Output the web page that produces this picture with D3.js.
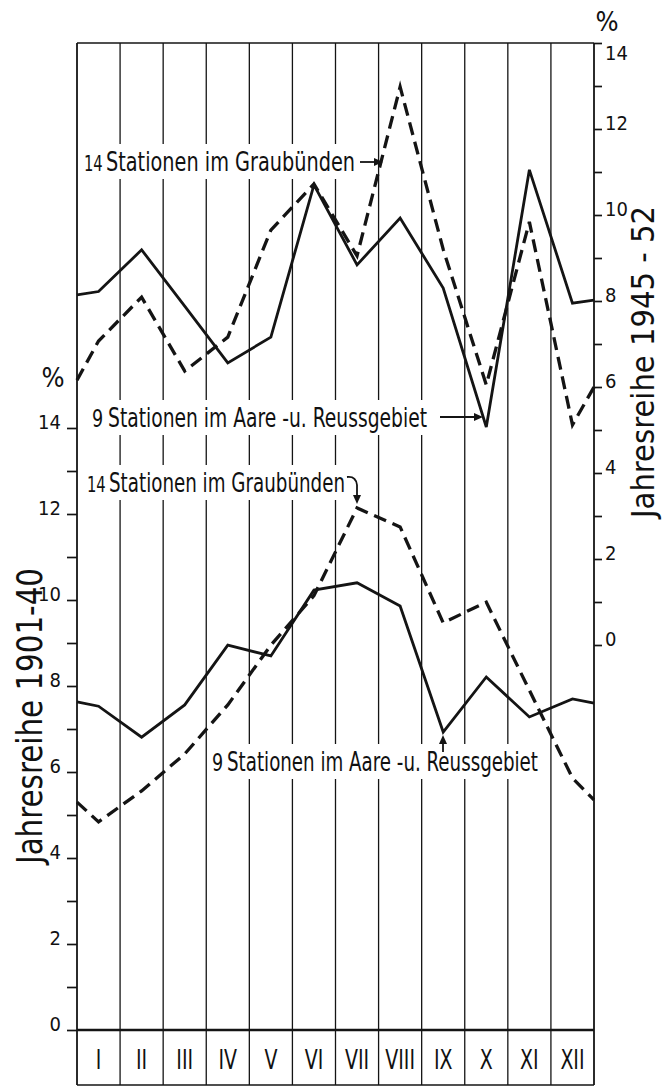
<!DOCTYPE html>
<html><head><meta charset="utf-8">
<script src="https://cdn.jsdelivr.net/npm/d3@7"></script>
<style>
body{margin:0;background:#fff}
svg{display:block;background:#fff}
text{font-family:"DejaVu Sans Condensed","DejaVu Sans","Liberation Sans Narrow",sans-serif;fill:#111}
</style>
</head><body>
<svg id="c" width="663" height="1086"></svg>
<script>
// ---- data ----
const months = ["I","II","III","IV","V","VI","VII","VIII","IX","X","XI","XII"];
// month index positions: left edge, months 1..12, right edge
const monthPos = [0.5,1,2,3,4,5,6,7,8,9,10,11,12,12.5];
// Jahresreihe 1945-52 (right axis)
const aareRecent  = [8.14, 8.22, 9.19, 7.88, 6.56, 7.16, 10.7, 8.84, 9.93, 8.3, 5.07, 11.05, 7.95, 8.02];
const graubRecent = [6.16, 7.07, 8.09, 6.37, 7.16, 9.65, 10.72, 9.05, 12.98, 9.2, 6.05, 9.84, 5.12, 6.0];
// Jahresreihe 1901-40 (left axis)
const aareLong    = [7.63, 7.53, 6.81, 7.56, 8.95, 8.7, 10.23, 10.4, 9.86, 6.93, 8.21, 7.28, 7.7, 7.6];
const graubLong   = [5.3, 4.84, 5.56, 6.42, 7.56, 8.95, 10.1, 12.14, 11.7, 9.47, 9.95, 7.9, 5.86, 5.35];
const leftTicks  = [0,1,2,3,4,5,6,7,8,9,10,11,12,13,14];
const rightTicks = [0,1,2,3,4,5,6,7,8,9,10,11,12,13,14];
const labelGraub = "Stationen im Graubünden";
const labelAare  = "Stationen im Aare -u. Reussgebiet";
const titleLeft  = "Jahresreihe 1901-40";
const titleRight = "Jahresreihe 1945 - 52";

// ---- scales ----
const svg = d3.select("#c");
const x  = d3.scaleLinear().domain([0.5, 12.5]).range([77, 594]);
const yL = d3.scaleLinear().domain([0, 14]).range([1030, 428]);
const yR = d3.scaleLinear().domain([0, 14]).range([645, 43]);
const frameTop = 43, frameBottom = 1085;
const ink = "#141414";

// grid / frame
const bounds = d3.range(0.5, 13, 1);
svg.append("g").selectAll("line").data(bounds).join("line")
  .attr("x1", d => x(d)).attr("x2", d => x(d))
  .attr("y1", frameTop).attr("y2", frameBottom)
  .attr("stroke", ink)
  .attr("stroke-width", (d,i) => (i===0 || i===bounds.length-1) ? 1.8 : 1.3);
svg.append("line").attr("x1", x(0.5)).attr("x2", x(12.5)).attr("y1", frameTop).attr("y2", frameTop)
  .attr("stroke", ink).attr("stroke-width", 1.6);
svg.append("line").attr("x1", x(0.5)).attr("x2", x(12.5)).attr("y1", frameBottom).attr("y2", frameBottom)
  .attr("stroke", ink).attr("stroke-width", 1.6);
svg.append("line").attr("x1", x(0.5)).attr("x2", x(12.5)).attr("y1", yL(0)).attr("y2", yL(0))
  .attr("stroke", ink).attr("stroke-width", 2.4);

// month labels
svg.append("g").selectAll("text").data(months).join("text")
  .attr("x", (d,i) => x(i+1)).attr("y", 1069)
  .attr("text-anchor", "middle")
  .style("font-size", "27px")
  .attr("transform", (d,i) => `translate(${x(i+1)},1069) scale(0.78,1) translate(${-x(i+1)},-1069)`)
  .text(d => d);

// left axis
const axL = d3.axisLeft(yL).tickValues(leftTicks)
  .tickFormat(d => d % 2 === 0 ? d : "").tickSizeInner(10).tickSizeOuter(0).tickPadding(6);
const gL = svg.append("g").attr("transform", `translate(${x(0.5)},0)`).call(axL);
gL.select(".domain").remove();
gL.selectAll("line").attr("stroke", ink).attr("stroke-width", 1.7);
gL.selectAll("text").attr("dy", "0.02em").style("font-size", "20px")
  .style("font-family", "'DejaVu Sans Condensed','DejaVu Sans',sans-serif").attr("fill", ink);

// right axis
const axR = d3.axisRight(yR).tickValues(rightTicks)
  .tickFormat(d => d % 2 === 0 ? d : "").tickSizeInner(8).tickSizeOuter(0).tickPadding(3);
const gR = svg.append("g").attr("transform", `translate(${x(12.5)},0)`).call(axR);
gR.select(".domain").remove();
gR.selectAll("line").attr("stroke", ink).attr("stroke-width", 1.7);
gR.selectAll("text").attr("dy", d => d === 14 ? "0.8em" : "0.02em").style("font-size", "20px")
  .style("font-family", "'DejaVu Sans Condensed','DejaVu Sans',sans-serif").attr("fill", ink);

// percent signs
svg.append("text").attr("x", 53).attr("y", 387).attr("text-anchor","middle").style("font-size","27px").text("%");
svg.append("text").attr("x", 607).attr("y", 31).attr("text-anchor","middle").style("font-size","27px").text("%");

// axis titles
svg.append("text").attr("transform", "translate(42,716) rotate(-90)")
  .attr("text-anchor","middle").style("font-size","36px")
  .attr("textLength", 296).attr("lengthAdjust","spacingAndGlyphs").text(titleLeft);
svg.append("text").attr("transform", "translate(654,362) rotate(-90)")
  .attr("text-anchor","middle").style("font-size","32px")
  .attr("textLength", 312).attr("lengthAdjust","spacingAndGlyphs").text(titleRight);

// annotation labels (with white background breaking grid lines)
function label(nx, tx, yy, num, txt, len) {
  const g = svg.append("g");
  const rect = g.append("rect").attr("fill", "#fff");
  g.append("text").attr("x", nx).attr("y", yy)
    .style("font-size", num.length > 1 ? "21px" : "25px")
    .attr("transform", `translate(${nx},${yy}) scale(0.78,1) translate(${-nx},${-yy})`)
    .text(num);
  g.append("text").attr("x", tx).attr("y", yy)
    .attr("textLength", len).attr("lengthAdjust", "spacingAndGlyphs")
    .style("font-size", "26px").text(txt);
  rect.attr("x", nx - 4).attr("y", yy - 27).attr("width", tx + len - nx + 8).attr("height", 35);
}
label(84, 106, 171, "14", labelGraub, 249);
label(92, 108, 427, "9", labelAare, 319);
label(87, 109, 492, "14", labelGraub, 236);
label(212, 227, 771, "9", labelAare, 311);

// data lines
const lineR = d3.line().x((d,i) => x(monthPos[i])).y(d => yR(d));
const lineL = d3.line().x((d,i) => x(monthPos[i])).y(d => yL(d));
const solid = {stroke: ink, "stroke-width": 2.8, fill: "none", "stroke-linejoin": "miter"};
const dashed = {stroke: ink, "stroke-width": 3.3, fill: "none", "stroke-dasharray": "13,7", "stroke-linejoin": "miter"};
function draw(data, gen, st) {
  const p = svg.append("path").datum(data).attr("d", gen);
  Object.entries(st).forEach(([k,v]) => p.attr(k, v));
}
draw(aareRecent, lineR, solid);
draw(graubRecent, lineR, dashed);
draw(aareLong, lineL, solid);
draw(graubLong, lineL, dashed);

// arrows
function head(tx, ty, dir) {
  const a = dir * Math.PI / 180, L = 9, W = 4;
  const bx = tx - L*Math.cos(a), by = ty - L*Math.sin(a);
  const px = -Math.sin(a)*W, py = Math.cos(a)*W;
  svg.append("path").attr("d", `M${tx},${ty}L${bx+px},${by+py}L${bx-px},${by-py}Z`).attr("fill", ink);
}
svg.append("line").attr("x1",360).attr("x2",376).attr("y1",162).attr("y2",162).attr("stroke",ink).attr("stroke-width",1.8);
head(383, 162, 0);
svg.append("line").attr("x1",440).attr("x2",475).attr("y1",417).attr("y2",417).attr("stroke",ink).attr("stroke-width",1.8);
head(483, 417, 0);
svg.append("path").attr("d","M347,477 Q356,476 357,485 L357,496").attr("fill","none").attr("stroke",ink).attr("stroke-width",1.8);
head(357, 504, 90);
svg.append("line").attr("x1",443).attr("x2",443).attr("y1",752).attr("y2",743).attr("stroke",ink).attr("stroke-width",1.8);
head(443, 735, -90);
</script>
</body></html>
